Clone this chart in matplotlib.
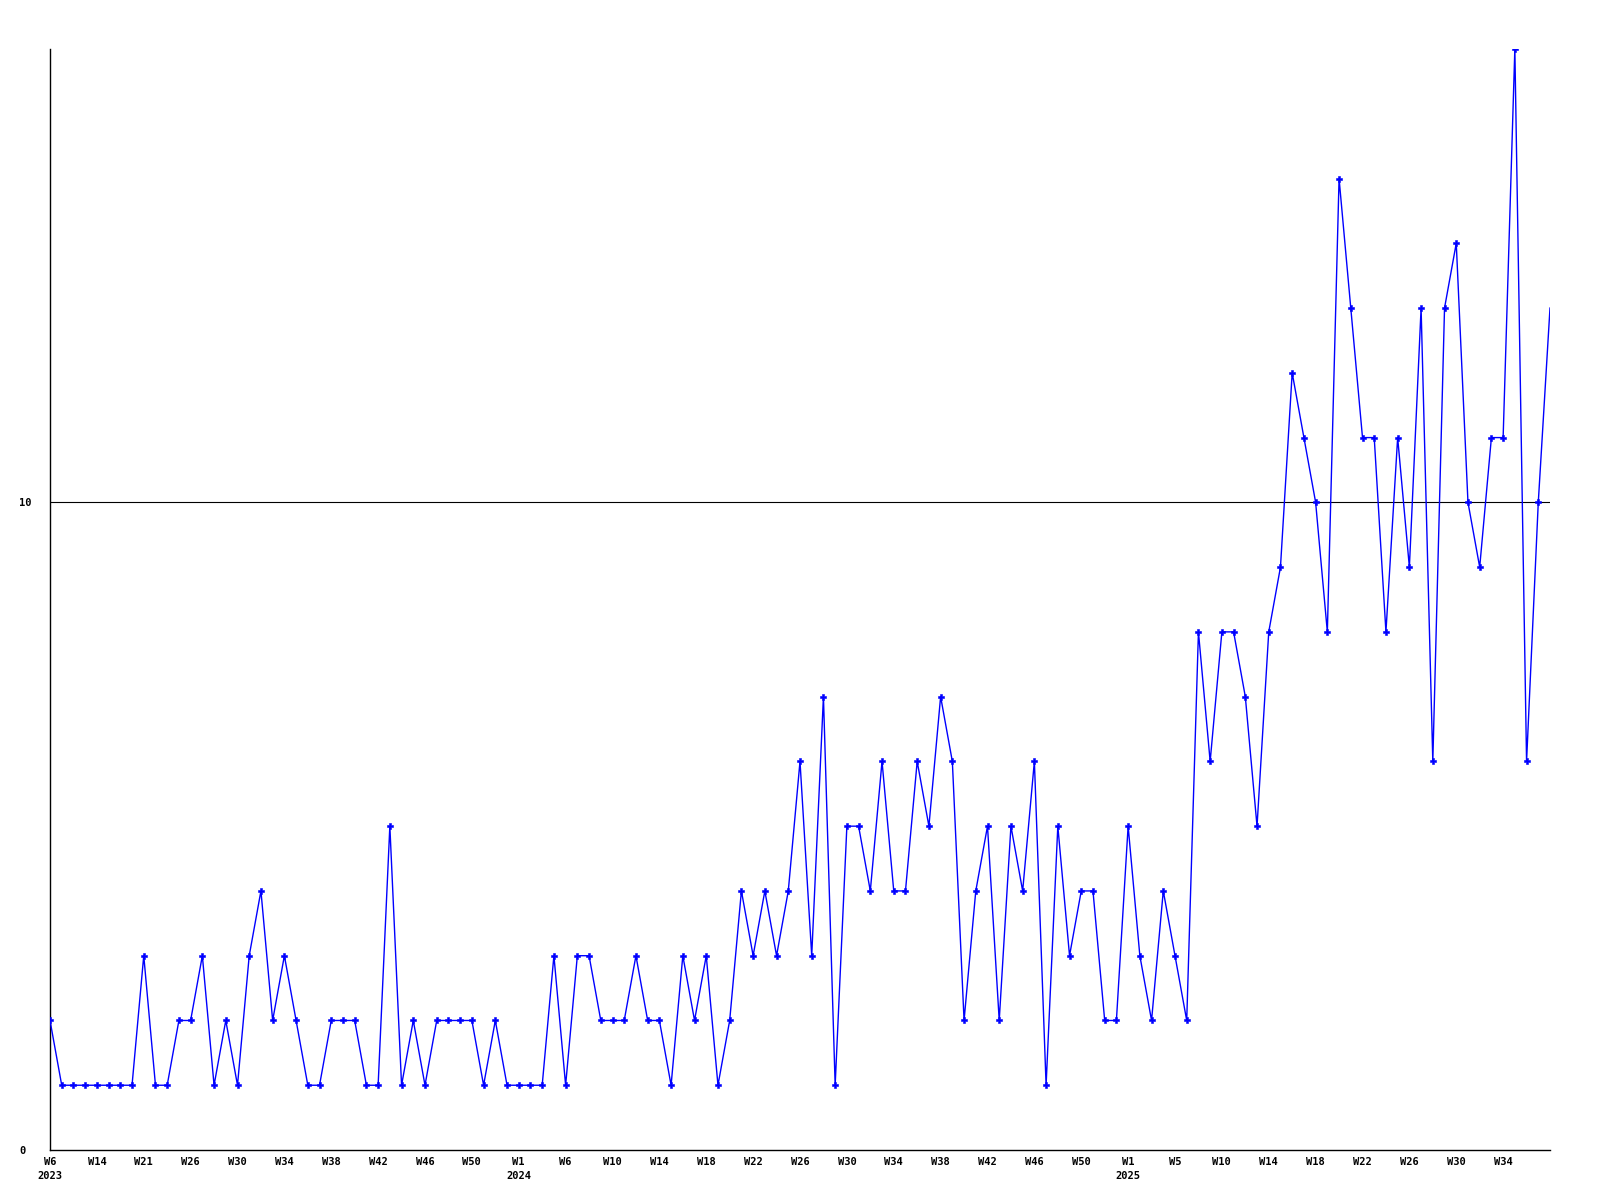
import matplotlib
matplotlib.use("Agg")
import matplotlib.pyplot as plt

# weekly counts, one point per week
values = [2, 1, 1, 1, 1, 1, 1, 1, 3, 1, 1, 2, 2, 3, 1, 2, 1, 3, 4, 2,
          3, 2, 1, 1, 2, 2, 2, 1, 1, 5, 1, 2, 1, 2, 2, 2, 2, 1, 2, 1,
          1, 1, 1, 3, 1, 3, 3, 2, 2, 2, 3, 2, 2, 1, 3, 2, 3, 1, 2, 4,
          3, 4, 3, 4, 6, 3, 7, 1, 5, 5, 4, 6, 4, 4, 6, 5, 7, 6, 2, 4,
          5, 2, 5, 4, 6, 1, 5, 3, 4, 4, 2, 2, 5, 3, 2, 4, 3, 2, 8, 6,
          8, 8, 7, 5, 8, 9, 12, 11, 10, 8, 15, 13, 11, 11, 8, 11, 9, 13, 6, 13,
          14, 10, 9, 11, 11, 17, 6, 10, 13]

# labelled every 4th point
week_labels = ["W6", "W14", "W21", "W26", "W30", "W34", "W38", "W42", "W46", "W50",
               "W1", "W6", "W10", "W14", "W18", "W22", "W26", "W30", "W34", "W38",
               "W42", "W46", "W50",
               "W1", "W5", "W10", "W14", "W18", "W22", "W26", "W30", "W34"]
label_step = 4

year_labels = ["2023", "2024", "2025"]
year_positions = [0, 40, 92]

y_ticks = [0, 10]

font = "DejaVu Sans Mono"
fsize = 7.5

fig = plt.figure(figsize=(16, 12), dpi=100)
ax = fig.add_axes([50 / 1600, 1 - 1150 / 1200, 1500 / 1600, 1101 / 1200])

x = list(range(len(values)))
ax.plot(x, values, color="#0000ff", linewidth=1.0, marker="P", markersize=4.2,
        markeredgewidth=0.4, markeredgecolor="#0000ff",
        markevery=list(range(len(values) - 1)), zorder=3)

# horizontal line at 10
ax.axhline(10, color="black", linewidth=0.8, zorder=2)

ax.set_xlim(0, len(values) - 1)
ax.set_ylim(0, 17)

for s in ["top", "right"]:
    ax.spines[s].set_visible(False)
for s in ["left", "bottom"]:
    ax.spines[s].set_linewidth(1.0)
    ax.spines[s].set_color("black")

ax.set_yticks(y_ticks)
ax.set_yticklabels([str(v) for v in y_ticks], fontfamily=font, fontweight="bold", fontsize=fsize)
ax.tick_params(axis="y", length=0, pad=22)
for lbl in ax.get_yticklabels():
    lbl.set_horizontalalignment("left")

ax.set_xticks([i * label_step for i in range(len(week_labels))])
ax.set_xticklabels(week_labels, fontfamily=font, fontweight="bold", fontsize=fsize)
ax.tick_params(axis="x", length=0, pad=5)

for yl, pos in zip(year_labels, year_positions):
    ax.annotate(yl, xy=(pos, 0), xycoords=("data", "axes fraction"),
                xytext=(0, -19), textcoords="offset points",
                ha="center", va="center", fontfamily=font, fontweight="bold", fontsize=fsize)

fig.savefig("out.png", dpi=100)
